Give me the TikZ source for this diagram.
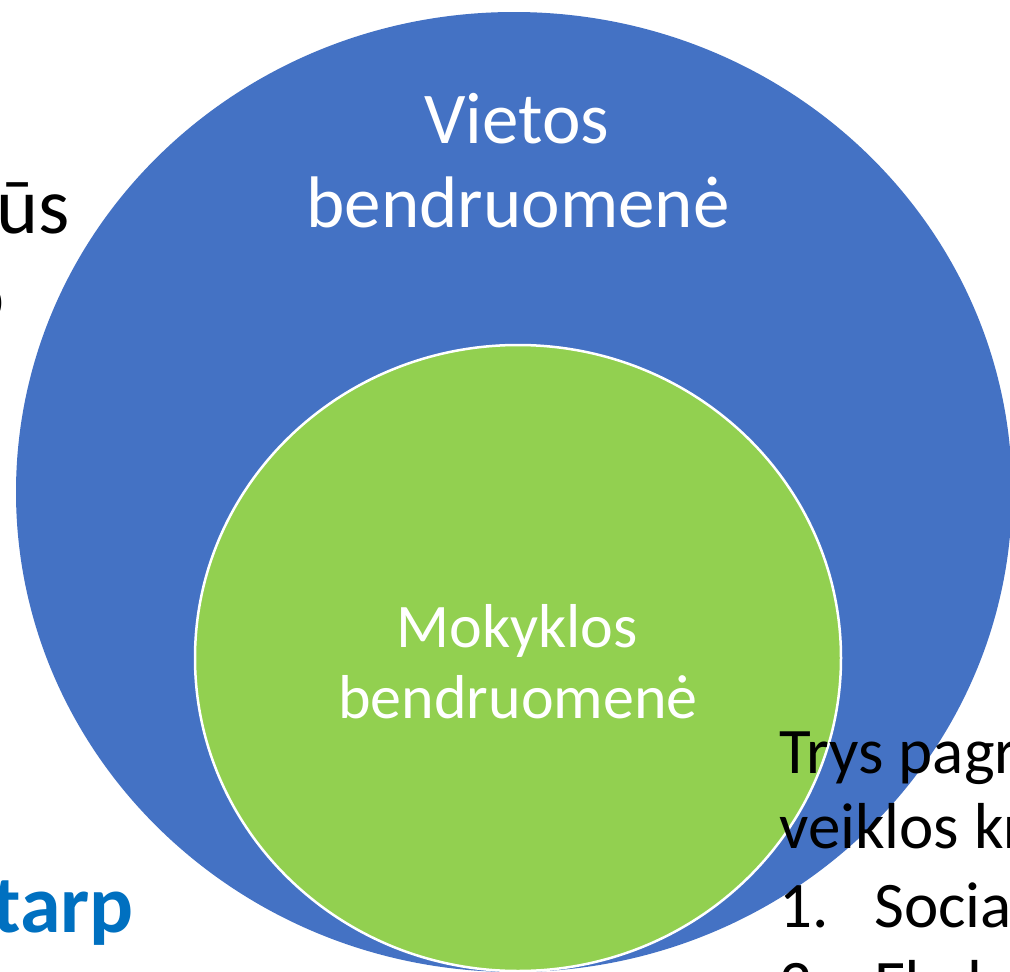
\documentclass[tikz,border=0pt]{standalone}
\usepackage{fontspec}
\setmainfont{Carlito}
\usetikzlibrary{positioning}
\definecolor{vietosblue}{HTML}{4472C4}
\definecolor{mokyklosgreen}{HTML}{92D050}
\definecolor{tarpblue}{HTML}{0070C0}

\begin{document}
\begin{tikzpicture}[x=1pt,y=-1pt,
  vietostxt/.style={font=\fontsize{73}{84}\selectfont, text=white, inner sep=0pt, anchor=base},
  mokyklostxt/.style={font=\fontsize{62}{71}\selectfont, text=white, inner sep=0pt, anchor=base},
  salis/.style={font=\fontsize{80}{90}\selectfont, inner sep=0pt},
  sarasas/.style={font=\fontsize{65}{78}\selectfont, inner sep=0pt, anchor=base west}]
\useasboundingbox (0,0) rectangle (1010,972);

% vietos bendruomene
\fill[vietosblue] (514,492) ellipse [x radius=498pt, y radius=480pt];
\node[vietostxt] (vietos1) at (517,143) {Vietos};
\node[vietostxt] (vietos2) at (518,227) {bendruomenė};

% mokyklos bendruomene
\fill[mokyklosgreen, draw=white, line width=2.5pt] (518,658) ellipse [x radius=323pt, y radius=313pt];
\node[mokyklostxt] (mokyklos1) at (517,647) {Mokyklos};
\node[mokyklostxt] (mokyklos2) at (518,718) {bendruomenė};

% teksto likuciai kairėje
\node[salis, anchor=base west] (kaire1) at (-4,233) {ūs};
\node[salis, anchor=base east] (kaire2) at (5,322) {o};
\node[salis, anchor=base east, text=tarpblue, font=\fontsize{82}{90}\selectfont\bfseries] (tarp) at (134,932) {tarp};

% sarasas desineje
\node[sarasas] (trys) at (779,773) {Trys pagrindinės};
\node[sarasas] (veiklos) at (779,848) {veiklos kryptys:};
\node[sarasas] (nr1) at (779,927) {1.};
\node[sarasas] (soc) at (874,927) {Socialinė};
\node[sarasas] (nr2) at (779,1005) {2.};
\node[sarasas] (eko) at (874,1005) {Ekologinė};
\end{tikzpicture}
\end{document}
